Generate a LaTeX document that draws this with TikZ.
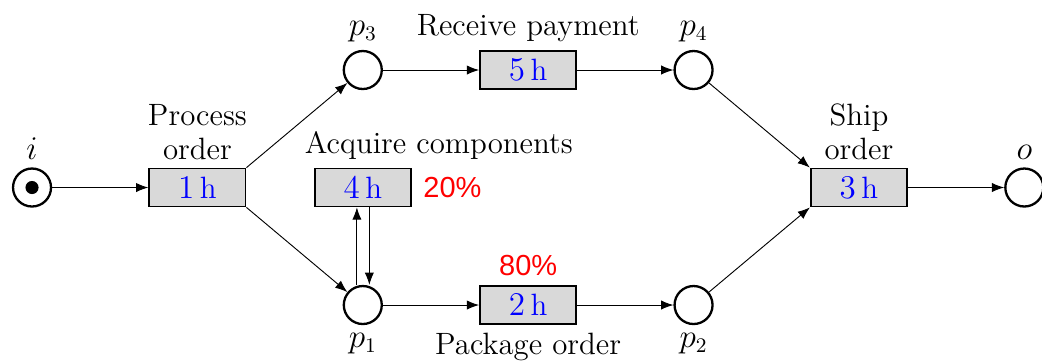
\documentclass[tikz,border=0pt]{standalone}
\usepackage{fontspec}
\newfontfamily\pctfont{Liberation Sans}
\usetikzlibrary{arrows.meta,positioning}

\newcommand\lblsize{\fontsize{13.4}{14.5}\selectfont}
\tikzset{
  place/.style={circle,draw,line width=1pt,minimum size=5.8mm,inner sep=0pt},
  transition/.style={rectangle,draw,thick,fill=black!15,minimum width=14.7mm,
    minimum height=5.8mm,inner sep=0pt,font=\lblsize,text=blue},
  arc/.style={-{Latex[length=5.3pt,width=4pt]},thin},
  prob/.style={font=\pctfont\fontsize{12.6}{15}\selectfont,text=red},
  every label/.style={font=\lblsize,text=black},
}

\begin{document}
\begin{tikzpicture}
		\def\dx{2.525}
		\def\dy{1.794}
		\useasboundingbox (-0.489,-2.664) rectangle (15.42,2.863);
		% places
		\node[place,label=above:$i$] (i) at (0,0) {};
		\node[place,label=above:$p_3$] (p3) at (2*\dx,\dy) {};
		\node[place,label=below:$p_1$] (p1) at (2*\dx,-\dy) {};
		\node[place,label=above:$p_4$] (p4) at (4*\dx,\dy) {};
		\node[place,label=below:$p_2$] (p2) at (4*\dx,-\dy) {};
		\node[place,label=above:$o$] (o) at (6*\dx,0) {};
		\fill (i.center) circle (0.1);
		% transitions
		\node[transition,label={[align=center]above:Process\\order}] (process) at (\dx,0) {$1\,\mathrm{h}$};
		\node[transition,label=above:Receive payment] (receive) at (3*\dx,\dy) {$5\,\mathrm{h}$};
		\node[transition,label={[xshift=1.16cm]above:Acquire components}] (acquire) at (2*\dx,0) {$4\,\mathrm{h}$};
		\node[transition,label=below:Package order] (package) at (3*\dx,-\dy) {$2\,\mathrm{h}$};
		\node[transition,label={[align=center]above:Ship\\order}] (ship) at (5*\dx,0) {$3\,\mathrm{h}$};
		% probabilities
		\node[prob,right=1.5pt of acquire] (pacq) {20\%};
		\node[prob,above=0.5pt of package] (ppack) {80\%};
		% arcs
		\draw[arc] (i) -- (process);
		\draw[arc] (process.north east) -- (p3);
		\draw[arc] (process.south east) -- (p1);
		\draw[arc] (p3) -- (receive);
		\draw[arc] (receive) -- (p4);
		\draw[arc] (p1) -- (package);
		\draw[arc] (package) -- (p2);
		\draw[arc] (p4) -- (ship.north west);
		\draw[arc] (p2) -- (ship.south west);
		\draw[arc] (ship) -- (o);
		\draw[arc] ([xshift=-0.09cm]p1.north) -- ([xshift=-0.09cm]acquire.south);
		\draw[arc] ([xshift=0.1cm]acquire.south) -- ([xshift=0.1cm]p1.north);
	\end{tikzpicture}
\end{document}
